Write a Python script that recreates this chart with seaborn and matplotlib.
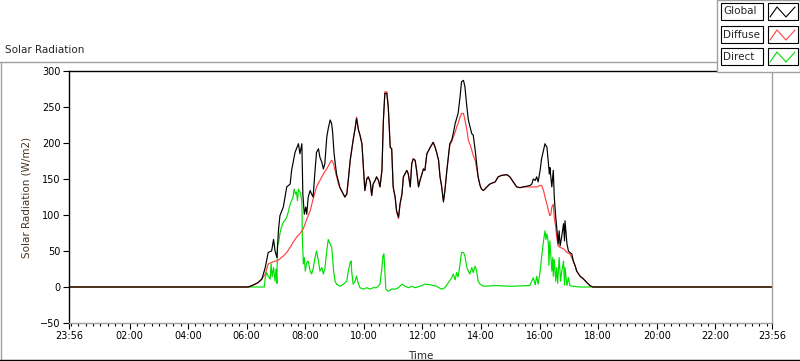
import matplotlib
matplotlib.use('Agg')
import matplotlib.pyplot as plt
import matplotlib.ticker as mticker
from matplotlib.patches import Rectangle
from matplotlib.lines import Line2D
import seaborn as sns
import pandas as pd

# minutes since midnight, values in W/m2
global_min = [-4, 363, 371, 377, 383, 391, 398, 404, 411, 415,
              418, 422, 425, 428, 435, 442, 449, 452, 459, 466,
              469, 473, 475, 478, 481, 483, 486, 490, 493, 496,
              500, 503, 507, 510, 514, 517, 520, 524, 527, 531,
              534, 536, 539, 544, 551, 561, 565, 568, 572, 575,
              578, 582, 585, 589, 592, 596, 599, 602, 606, 609,
              613, 616, 619, 623, 626, 630, 633, 637, 640, 643,
              647, 650, 654, 657, 660, 664, 667, 671, 674, 678,
              681, 684, 688, 691, 695, 698, 701, 705, 708, 712,
              715, 719, 722, 725, 729, 736, 742, 746, 749, 753,
              756, 759, 763, 766, 770, 773, 776, 780, 783, 787,
              790, 793, 797, 800, 804, 807, 811, 814, 821, 824,
              828, 831, 834, 838, 841, 845, 852, 858, 869, 875,
              882, 893, 899, 906, 913, 920, 927, 934, 940, 944,
              947, 951, 954, 957, 961, 964, 968, 971, 975, 978,
              980, 981, 985, 988, 990, 993, 995, 998, 1000, 1002,
              1005, 1009, 1011, 1012, 1016, 1019, 1022, 1026, 1029, 1033,
              1036, 1043, 1050, 1057, 1063, 1069, 1436]
global_wm2 = [0, 0, 2, 4, 6, 11, 27, 48, 50, 66,
              50, 41, 78, 99, 111, 139, 143, 162, 187, 199,
              185, 199, 129, 101, 111, 101, 125, 134, 129, 125,
              162, 187, 192, 180, 173, 164, 171, 208, 220, 232,
              227, 215, 185, 157, 138, 125, 129, 148, 176, 190,
              204, 220, 234, 218, 211, 199, 166, 134, 150, 153,
              146, 127, 143, 148, 153, 148, 139, 162, 232, 269,
              269, 250, 194, 192, 139, 125, 106, 97, 115, 129,
              153, 157, 162, 157, 139, 171, 178, 176, 162, 139,
              148, 157, 164, 162, 185, 194, 201, 194, 187, 176,
              153, 141, 118, 134, 162, 180, 199, 204, 213, 227,
              234, 241, 264, 285, 287, 278, 250, 232, 213, 211,
              190, 171, 153, 141, 136, 134, 139, 143, 146, 153,
              155, 156, 153, 146, 139, 138, 139, 140, 141, 143,
              150, 148, 153, 146, 162, 178, 190, 199, 194, 171,
              157, 166, 139, 162, 125, 97, 83, 60, 78, 57,
              69, 88, 64, 92, 60, 50, 48, 46, 36, 29,
              22, 15, 11, 6, 2, 0, 0]

diffuse_min = [-4, 363, 371, 377, 383, 391, 398, 404, 411, 418,
               422, 428, 435, 442, 449, 455, 462, 469, 476, 483,
               490, 496, 503, 510, 517, 524, 531, 534, 538, 541,
               548, 551, 561, 565, 568, 572, 575, 578, 582, 585,
               589, 592, 596, 599, 602, 606, 609, 613, 616, 619,
               623, 626, 630, 633, 637, 640, 643, 647, 650, 654,
               657, 660, 664, 667, 671, 674, 678, 681, 684, 688,
               691, 695, 698, 701, 705, 708, 712, 715, 719, 722,
               725, 729, 736, 742, 746, 749, 753, 756, 759, 763,
               766, 770, 773, 776, 780, 783, 787, 790, 793, 797,
               800, 804, 807, 811, 814, 818, 821, 824, 828, 831,
               834, 838, 841, 845, 852, 858, 869, 875, 882, 893,
               899, 906, 913, 920, 927, 934, 940, 947, 954, 961,
               964, 968, 971, 975, 978, 981, 983, 985, 988, 990,
               993, 995, 998, 1002, 1009, 1016, 1022, 1029, 1033, 1036,
               1043, 1050, 1057, 1063, 1069, 1436]
diffuse_wm2 = [0, 0, 2, 4, 6, 11, 18, 32, 34, 36,
               36, 39, 43, 48, 55, 62, 69, 74, 81, 94,
               106, 122, 139, 148, 157, 164, 173, 176, 171, 162,
               143, 138, 125, 129, 148, 176, 190, 204, 220, 236,
               218, 211, 199, 166, 134, 150, 153, 146, 127, 143,
               148, 153, 148, 139, 162, 232, 271, 271, 250, 194,
               192, 139, 125, 104, 95, 115, 129, 153, 157, 162,
               157, 139, 171, 178, 176, 162, 139, 148, 157, 164,
               162, 185, 194, 201, 194, 187, 176, 153, 141, 120,
               134, 162, 180, 197, 202, 208, 215, 222, 227, 236,
               241, 241, 232, 218, 204, 197, 190, 183, 176, 165,
               153, 141, 136, 134, 139, 143, 146, 153, 155, 156,
               153, 146, 139, 138, 139, 139, 139, 139, 139, 141,
               141, 134, 125, 115, 106, 99, 101, 111, 115, 97,
               83, 69, 57, 55, 53, 48, 46, 36, 29, 22,
               15, 11, 6, 2, 0, 0]

direct_min = [-4, 396, 398, 401, 404, 408, 410, 412, 415, 418,
              420, 422, 423, 425, 428, 431, 435, 438, 442, 445,
              449, 452, 455, 457, 460, 462, 464, 466, 469, 471,
              473, 474, 476, 478, 480, 483, 486, 490, 493, 496,
              500, 503, 507, 510, 514, 517, 520, 524, 527, 531,
              534, 536, 538, 541, 544, 551, 558, 565, 568, 572,
              574, 575, 578, 582, 585, 589, 592, 599, 606, 613,
              619, 626, 633, 637, 639, 641, 643, 645, 650, 657,
              664, 671, 678, 684, 691, 698, 705, 715, 725, 736,
              749, 759, 766, 773, 780, 783, 787, 790, 793, 797,
              800, 804, 807, 811, 814, 817, 821, 824, 828, 831,
              834, 838, 845, 870, 900, 940, 947, 951, 954, 957,
              961, 964, 968, 971, 973, 975, 978, 979, 981, 985,
              987, 988, 990, 993, 995, 997, 1000, 1003, 1005, 1009,
              1011, 1012, 1016, 1019, 1022, 1028, 1043, 1436]
direct_wm2 = [0, 0, 13, 20, 15, 11, 32, 14, 27, 8,
              25, 5, 60, 60, 74, 83, 90, 92, 97, 104,
              115, 120, 125, 136, 129, 132, 120, 136, 132, 127,
              118, 69, 32, 41, 22, 34, 36, 22, 18, 25,
              41, 50, 36, 22, 27, 18, 25, 50, 66, 60,
              55, 41, 22, 8, 4, 1, 4, 8, 22, 34,
              36, 22, 4, 8, 15, 4, -1, -3, -1, -3,
              -1, -1, 4, 27, 43, 46, 22, -3, -6, -3,
              -3, -1, 4, 1, -1, 1, -1, 1, 4, 3,
              1, -3, -1, 6, 13, 18, 10, 20, 14, 32,
              48, 48, 43, 27, 22, 18, 27, 20, 29, 22,
              8, 4, 1, 2, 1, 2, 13, 3, 15, 4,
              22, 41, 64, 78, 66, 74, 60, 30, 64, 22,
              41, 15, 38, 8, 27, 5, 41, 8, 20, 36,
              3, 27, 2, 13, 2, 1, 0, 0]

series_names = ['Direct', 'Diffuse', 'Global']
series_colors = {'Global': '#000000', 'Diffuse': '#ff4040', 'Direct': '#00e000'}
tick_minutes = [-4, 120, 240, 360, 480, 600, 720, 840, 960, 1080, 1200, 1320, 1436]
tick_labels = ['23:56', '02:00', '04:00', '06:00', '08:00', '10:00', '12:00',
               '14:00', '16:00', '18:00', '20:00', '22:00', '23:56']

df = pd.concat([
    pd.DataFrame({'minute': global_min, 'wm2': global_wm2, 'series': 'Global'}),
    pd.DataFrame({'minute': diffuse_min, 'wm2': diffuse_wm2, 'series': 'Diffuse'}),
    pd.DataFrame({'minute': direct_min, 'wm2': direct_wm2, 'series': 'Direct'}),
], ignore_index=True)

sns.set_theme(style='white')
plt.rcParams['font.family'] = ['DejaVu Sans']

W, H = 800, 361
fig = plt.figure(figsize=(W / 100, H / 100), dpi=100)
fig.patch.set_facecolor('white')


def fx(px):
    return px / W


def fy(py):
    return 1 - py / H


ax = fig.add_axes([fx(69), fy(323), fx(772) - fx(69), fy(71) - fy(323)])
sns.lineplot(data=df, x='minute', y='wm2', hue='series', hue_order=series_names,
             palette=series_colors, linewidth=0.85, legend=False, ax=ax)

ax.set_xlim(-4, 1436)
ax.set_ylim(-50, 300)
ax.set_xticks(tick_minutes)
ax.set_xticklabels(tick_labels)
ax.xaxis.set_minor_locator(mticker.MultipleLocator(15))
ax.set_yticks([-50, 0, 50, 100, 150, 200, 250, 300])
ax.tick_params(axis='both', which='major', direction='out', length=4, width=0.8,
               colors='black', labelsize=7, pad=2, bottom=True, left=True)
ax.tick_params(axis='x', which='minor', direction='out', length=2, width=0.8,
               colors='black', bottom=True)
ax.set_xlabel('Time', fontsize=7.5, labelpad=1)
ax.xaxis.set_label_coords(0.5, -0.11)
ax.set_ylabel('Solar Radiation (W/m2)', fontsize=7.5, color='#4a3520', labelpad=6)
ax.spines['left'].set_color('black')
ax.spines['top'].set_color('black')
ax.spines['bottom'].set_color('#a0a0a0')
ax.spines['right'].set_color('#a0a0a0')
for s in ax.spines.values():
    s.set_linewidth(1.0)

fig.text(fx(5), fy(50), 'Solar Radiation', fontsize=7.5, va='center', ha='left')

# outer frame
fig.add_artist(Line2D([fx(0), fx(717)], [fy(61.5), fy(61.5)], color='#a0a0a0', lw=1.0))
fig.add_artist(Line2D([fx(1), fx(1)], [fy(61.5), fy(360)], color='#a0a0a0', lw=1.0))
fig.add_artist(Line2D([fx(0), fx(800)], [fy(360), fy(360)], color='black', lw=1.0))

# legend panel
fig.add_artist(Rectangle((fx(717), fy(72)), fx(83), fy(0) - fy(72), transform=fig.transFigure,
                         facecolor='white', edgecolor='#a0a0a0', lw=1.0, zorder=10))
row_tops = [3, 26, 48]
for name, top in zip(['Global', 'Diffuse', 'Direct'], row_tops):
    fig.add_artist(Rectangle((fx(721), fy(top + 17)), fx(42), fy(top) - fy(top + 17),
                             transform=fig.transFigure, facecolor='white',
                             edgecolor='black', lw=0.8, zorder=11))
    fig.text(fx(723), fy(top + 8.5), name, fontsize=7.5, va='center', ha='left', zorder=12)
    fig.add_artist(Rectangle((fx(768), fy(top + 17)), fx(30), fy(top) - fy(top + 17),
                             transform=fig.transFigure, facecolor='white',
                             edgecolor='black', lw=0.8, zorder=11))
    zx = [fx(770), fx(777), fx(786), fx(795)]
    zy = [fy(top + 14), fy(top + 4), fy(top + 14), fy(top + 4)]
    fig.add_artist(Line2D(zx, zy, color=series_colors[name], lw=0.8, zorder=12))

fig.savefig('out.png', dpi=100)
